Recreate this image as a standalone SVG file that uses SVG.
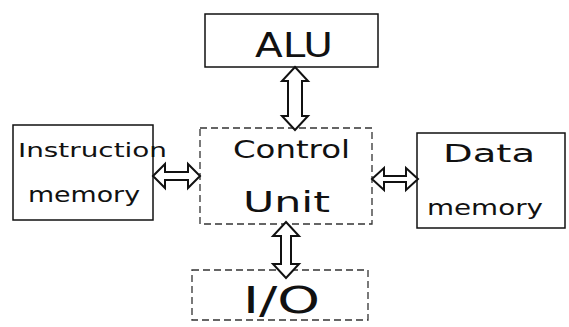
<svg xmlns="http://www.w3.org/2000/svg" width="569" height="327" viewBox="0 0 569 327">
<style>
.box{fill:none;stroke:#111;stroke-width:1.5}
.dash{fill:none;stroke:#333;stroke-width:1.3;stroke-dasharray:7 4}
.lbl{font-family:"DejaVu Sans","Liberation Sans",sans-serif;fill:#111}
.arr{fill:#fff;stroke:#111;stroke-width:2;stroke-linejoin:miter}
</style>
<rect width="569" height="327" fill="#fff"/>
<g id="alu">
<rect class="box" x="205" y="14" width="173" height="53"/>
<text class="lbl" x="255" y="57" font-size="34" textLength="78" lengthAdjust="spacingAndGlyphs">ALU</text>
</g>
<g id="instruction-memory">
<rect class="box" x="13" y="125" width="140" height="95"/>
<text class="lbl" x="18" y="157" font-size="20" textLength="149" lengthAdjust="spacingAndGlyphs">Instruction</text>
<text class="lbl" x="28" y="202" font-size="22" textLength="112" lengthAdjust="spacingAndGlyphs">memory</text>
</g>
<g id="control-unit">
<rect class="dash" x="200" y="128" width="172" height="96"/>
<text class="lbl" x="233" y="158" font-size="24" textLength="117" lengthAdjust="spacingAndGlyphs">Control</text>
<text class="lbl" x="243" y="212" font-size="28" textLength="87" lengthAdjust="spacingAndGlyphs">Unit</text>
</g>
<g id="data-memory">
<rect class="box" x="417" y="133" width="148" height="95"/>
<text class="lbl" x="443" y="162" font-size="24" textLength="92" lengthAdjust="spacingAndGlyphs">Data</text>
<text class="lbl" x="427" y="215" font-size="22" textLength="116" lengthAdjust="spacingAndGlyphs">memory</text>
</g>
<g id="io">
<rect class="dash" x="192" y="270" width="176" height="50"/>
<text class="lbl" x="243" y="313" font-size="38" textLength="77" lengthAdjust="spacingAndGlyphs">I/O</text>
</g>
<g id="connectors">
<polygon class="arr" points="295,67 308,81 302,81 302,116 308,116 295,130 282,116 288,116 288,81 282,81"/>
<polygon class="arr" points="286,222 299,236 291,236 291,264 299,264 286,278 273,264 281,264 281,236 273,236"/>
<polygon class="arr" points="153,176 165,164 165,172 188,172 188,164 200,176 188,188 188,180 165,180 165,188"/>
<polygon class="arr" points="372,179 384,168 384,176 406,176 406,168 418,179 406,190 406,182 384,182 384,190"/>
</g>
</svg>
